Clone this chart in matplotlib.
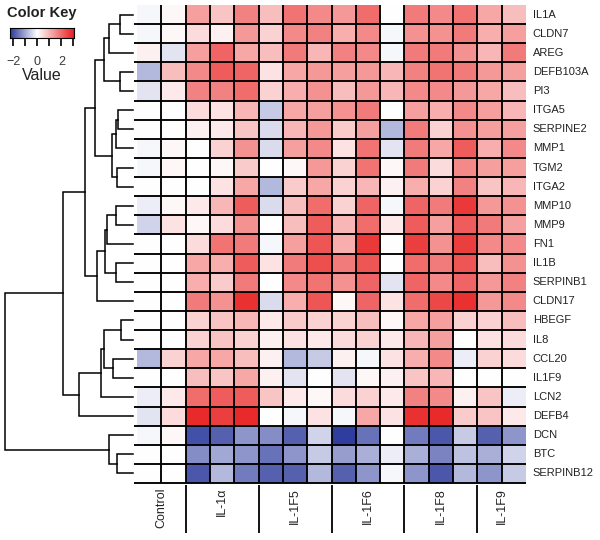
import numpy as np
import matplotlib
matplotlib.use("Agg")
import matplotlib.pyplot as plt
from matplotlib.colors import LinearSegmentedColormap, TwoSlopeNorm

plt.rcParams['font.family'] = ['Liberation Sans', 'DejaVu Sans']

# rows top to bottom
genes = ["IL1A", "CLDN7", "AREG", "DEFB103A", "PI3", "ITGA5", "SERPINE2", "MMP1",
         "TGM2", "ITGA2", "MMP10", "MMP9", "FN1", "IL1B", "SERPINB1", "CLDN17",
         "HBEGF", "IL8", "CCL20", "IL1F9", "LCN2", "DEFB4", "DCN", "BTC", "SERPINB12"]

groups = ["Control", "IL-1\u03b1", "IL-1F5", "IL-1F6", "IL-1F8", "IL-1F9"]
group_sizes = [2, 3, 3, 3, 3, 2]

# log ratio per gene (row) and sample (column)
values = np.array([
    [-0.1, 0.1, 1.3, 0.8, 1.7, 0.9, 1.9, 1.6, 1.4, 2.0, 0.0, 1.8, 1.6, 1.9, 1.2, 0.9],
    [-0.1, 0.1, 0.5, 0.2, 1.4, 0.6, 1.6, 1.7, 1.1, 1.6, -0.1, 1.5, 1.5, 1.8, 1.1, 1.3],
    [0.2, -0.3, 1.3, 2.1, 1.2, 0.9, 1.8, 1.0, 1.7, 1.6, -0.1, 1.8, 1.8, 1.5, 1.0, 1.8],
    [-0.8, 0.9, 1.6, 2.2, 2.1, 0.4, 1.2, 1.4, 1.3, 1.4, 1.0, 1.7, 1.9, 1.8, 1.4, 1.3],
    [-0.3, 0.3, 1.7, 1.7, 2.0, 0.6, 1.1, 1.5, 0.9, 1.4, 1.0, 1.6, 1.6, 1.4, 1.2, 0.9],
    [0.0, 0.0, 0.5, 0.4, 1.0, -0.6, 1.2, 1.3, 1.5, 1.8, 0.0, 1.3, 1.1, 1.6, 1.3, 1.0],
    [0.0, 0.0, 0.2, 0.3, 0.8, -0.4, 1.0, 1.4, 0.7, 1.3, -0.8, 1.8, 0.6, 1.5, 1.3, 1.3],
    [-0.1, 0.1, 0.0, 0.6, 1.5, -0.4, 1.3, 1.6, 0.4, 1.9, -0.3, 1.8, 1.2, 2.2, 1.1, 1.6],
    [-0.1, 0.1, 0.0, 0.1, 0.7, 0.0, 0.1, 1.4, 0.6, 1.9, 0.1, 1.8, 0.5, 1.6, 1.3, 1.3],
    [0.0, 0.0, 0.0, 0.4, 1.2, -0.8, 0.7, 1.2, 0.6, 1.0, 0.2, 1.1, 0.6, 1.7, 0.8, 1.0],
    [-0.2, 0.1, 0.3, 1.0, 2.2, -0.4, 0.9, 2.0, 0.6, 2.1, -0.1, 2.1, 1.8, 2.7, 1.4, 1.5],
    [-0.5, 0.4, 0.1, 0.5, 1.5, 0.0, 0.9, 2.2, 1.0, 2.0, 0.3, 2.2, 1.3, 2.2, 1.8, 1.3],
    [0.0, 0.0, 0.5, 1.9, 1.8, -0.1, 1.3, 2.3, 1.1, 2.7, 0.0, 2.6, 1.5, 2.6, 1.6, 1.6],
    [0.0, 0.0, 1.2, 1.1, 2.2, 0.4, 1.8, 2.4, 1.8, 2.3, 0.0, 2.0, 1.8, 2.3, 0.9, 1.5],
    [0.0, 0.0, 1.1, 0.7, 1.8, 0.0, 1.6, 1.9, 1.5, 2.1, -0.3, 2.1, 1.6, 2.1, 1.4, 1.7],
    [0.0, 0.0, 1.8, 1.5, 2.8, -0.4, 1.1, 2.3, 0.1, 2.1, 0.4, 2.0, 2.5, 2.8, 1.4, 1.6],
    [0.0, 0.0, 0.6, 0.8, 1.0, 0.3, 0.7, 0.6, 0.6, 0.9, 0.1, 1.2, 1.3, 0.6, 0.6, 0.9],
    [0.0, 0.0, 0.6, 0.8, 0.6, 0.2, 0.4, 0.3, 0.5, 0.6, 0.3, 1.0, 1.3, 0.0, 0.4, 0.5],
    [-0.8, 0.6, 1.2, 1.2, 0.9, 0.2, -0.8, -0.6, 0.2, -0.1, 0.4, 1.1, 1.6, -0.2, 0.6, 0.5],
    [0.0, 0.0, 0.9, 0.8, 1.2, 0.2, -0.3, 0.0, -0.3, 0.1, 0.2, 0.8, 1.0, 0.0, 0.0, 0.0],
    [-0.2, 0.3, 2.0, 2.2, 2.2, 0.8, 0.3, 0.1, 0.5, 0.6, 0.3, 1.7, 1.6, 0.2, 0.8, -0.2],
    [-0.3, 0.5, 2.9, 2.6, 2.9, 0.0, -0.1, 0.4, -0.1, 1.2, 0.4, 2.8, 2.9, 0.7, 0.8, 0.3],
    [-0.1, 0.1, -2.0, -1.8, -1.2, -1.3, -1.8, -0.5, -2.2, -1.6, 0.0, -1.5, -1.9, -0.6, -1.8, -1.2],
    [0.0, 0.0, -1.3, -1.0, -1.2, -1.6, -1.2, -0.6, -1.1, -0.9, -0.2, -0.9, -1.4, -0.7, -0.9, -0.5],
    [0.0, 0.0, -1.9, -0.8, -1.5, -1.8, -1.8, -0.8, -1.8, -1.2, -0.1, -1.2, -1.9, -0.8, -1.2, -0.6],
])

# row dendrogram: merge k joins nodes a and b into node 25+k at the given height
merge_a = [0, 25, 3, 26, 5, 29, 8, 30, 28, 10, 34, 13, 35, 37, 33, 16, 18, 40, 42, 43, 39, 23, 22, 45]
merge_b = [1, 2, 4, 27, 6, 7, 9, 31, 32, 11, 12, 14, 36, 15, 38, 17, 19, 41, 20, 21, 44, 24, 46, 47]
merge_h = [13, 24, 13, 29, 15, 17, 16, 21, 38, 17, 26.5, 17, 28, 36, 48, 12, 20, 29, 32, 54, 70, 16, 24, 128]

key_ticks = [-2, -1, 0, 1, 2, 3]
key_labels = ["\u22122", "", "0", "", "2", ""]

W, H = 600, 540


def box(x0, y0, x1, y1):
    return [x0 / W, 1 - y1 / H, (x1 - x0) / W, (y1 - y0) / H]


cmap = LinearSegmentedColormap.from_list("bluered", ["#2B3A9C", "#FFFFFF", "#E8201F"])
norm = TwoSlopeNorm(vmin=-2.25, vcenter=0, vmax=3.05)

fig = plt.figure(figsize=(W / 100, H / 100), dpi=100)

# heatmap
ax = fig.add_axes(box(137, 5, 526, 483))
nr, nc = values.shape
ax.pcolormesh(np.arange(nc + 1), np.arange(nr + 1), values, cmap=cmap, norm=norm)
ax.vlines(np.arange(1, nc), 0, nr, colors="black", linewidth=1.35)
ax.hlines(np.arange(1, nr + 1), -0.12, nc, colors="black", linewidth=1.35, clip_on=False)
ax.set_xlim(0, nc)
ax.set_ylim(nr, 0)
ax.set_xticks([])
ax.set_yticks([])
for s in ax.spines.values():
    s.set_visible(False)
for i, g in enumerate(genes):
    ax.text(nc + 0.28, i + 0.5, g, ha="left", va="center", fontsize=8, color="#222222")

# dendrogram on the left
dax = fig.add_axes(box(0, 5, 137, 483))
node_x = {i: 0.0 for i in range(nr)}
node_y = {i: i + 0.5 for i in range(nr)}
for k, (a, b, h) in enumerate(zip(merge_a, merge_b, merge_h)):
    dax.plot([node_x[a], h, h, node_x[b]], [node_y[a], node_y[a], node_y[b], node_y[b]],
             color="black", linewidth=1.1, solid_joinstyle="miter")
    node_x[nr + k] = h
    node_y[nr + k] = (node_y[a] + node_y[b]) / 2
dax.set_xlim(133, -4)
dax.set_ylim(nr, 0)
dax.axis("off")

# column group labels
bax = fig.add_axes(box(137, 483, 526, 540))
bax.set_xlim(0, nc)
bax.set_ylim(0, 1)
bax.axis("off")
edges = np.cumsum([0] + group_sizes)
for g, lo, hi in zip(groups, edges[:-1], edges[1:]):
    bax.text((lo + hi) / 2, 0.915, g, rotation=90, ha="center", va="top", fontsize=9, color="#222222")
bax.vlines(edges[1:-1], 0.12, 0.965, colors="black", linewidth=1.3)

# colour key
kax = fig.add_axes(box(10, 28, 74, 38))
grad = np.linspace(-2.25, 3.05, 256)
kax.imshow(grad[np.newaxis, :], aspect="auto", cmap=cmap, norm=norm,
           extent=[-2.25, 3.05, 0, 1])
kax.set_xlim(-2.25, 3.05)
kax.set_yticks([])
kax.set_xticks(key_ticks)
kax.set_xticklabels([])
kax.tick_params(axis="x", direction="out", length=5.5, width=1.2, color="black")
for s in kax.spines.values():
    s.set_linewidth(0.8)
for t, lab in zip(key_ticks, key_labels):
    if lab:
        kax.text(t, -2.4, lab, ha="center", va="center", fontsize=9, color="#3a3a3a",
                 transform=kax.get_xaxis_transform())
fig.text(42 / W, 1 - 13 / H, "Color Key", ha="center", va="center", fontsize=10.5,
         fontweight="bold", color="#222222")
fig.text(42 / W, 1 - 75 / H, "Value", ha="center", va="center", fontsize=11.5, color="#222222")

fig.savefig("out.png", dpi=100)
